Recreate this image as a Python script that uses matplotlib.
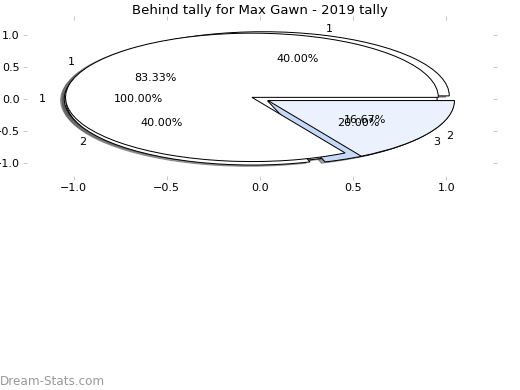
import matplotlib
matplotlib.use('Agg')
import matplotlib.pyplot as plt

# behind tallies per game, three groupings drawn on one axes
tally_a = [1]
labels_a = ['1']
colors_a = ['white']

tally_b = [2, 2, 1]
labels_b = ['1', '2', '3']
colors_b = ['white', 'white', '#c6d9f7']

tally_c = [5, 1]
labels_c = ['1', '2']
colors_c = ['white', '#ebf2fe']

fig = plt.figure(figsize=(520 / 72, 390 / 72), dpi=72)
ax = fig.add_axes([27 / 520, 1 - 176 / 390, 466 / 520, 156 / 390])

for vals, labs, cols in [(tally_a, labels_a, colors_a),
                         (tally_b, labels_b, colors_b),
                         (tally_c, labels_c, colors_c)]:
    ax.pie(vals, labels=labs, colors=cols, autopct='%.2f%%', shadow=True,
           explode=[0.05] * len(vals), frame=True,
           wedgeprops={'edgecolor': 'black', 'linewidth': 1},
           textprops={'fontsize': 11.1})

ax.set_aspect('auto')
ax.set_xlim(-1.25, 1.25)
ax.set_ylim(-1.2, 1.23)
ax.set_xticks([-1.0, -0.5, 0.0, 0.5, 1.0])
ax.set_yticks([-1.0, -0.5, 0.0, 0.5, 1.0])
for s in ax.spines.values():
    s.set_visible(False)
ax.tick_params(top=True, right=True, color='#bbbbbb', length=4, labelsize=11.1)

ax.set_title('Behind tally for Max Gawn - 2019 tally', fontsize=13.3)

fig.text(0.0, 0.013, 'Dream-Stats.com', fontsize=12, color='#999999')

plt.savefig('out.png', dpi=72)
